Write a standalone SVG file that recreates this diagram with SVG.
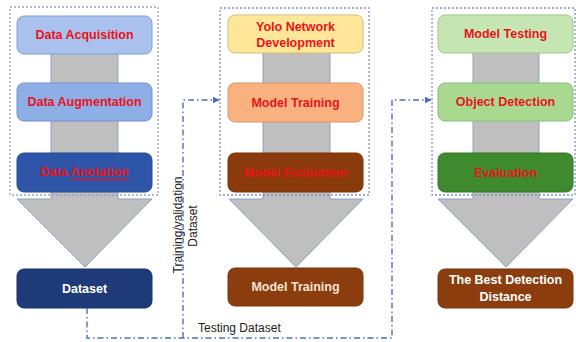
<svg xmlns="http://www.w3.org/2000/svg" width="576" height="342" viewBox="0 0 576 342">
<defs>
<style>
.t{font-family:"Liberation Sans",Arial,sans-serif;font-weight:bold;font-size:12.5px;text-anchor:middle;dominant-baseline:central}
.red{fill:#e8141c}
.wht{fill:#ffffff}
.lbl{font-family:"Liberation Sans",Arial,sans-serif;font-size:12px;fill:#222}
.grp{fill:none;stroke-width:1.3;stroke-dasharray:2 2}
.big{fill:#bfbfbf;stroke:#8fa0c8;stroke-width:1}
.con{fill:none;stroke:#4a6fc0;stroke-width:1.4;stroke-dasharray:6 3 1.5 3}
</style>
<marker id="ah" viewBox="0 0 10 10" refX="9" refY="5" markerWidth="5" markerHeight="5" orient="auto">
<path d="M0,0 L10,5 L0,10 z" fill="#4a6fc0"/>
</marker>
</defs>

<!-- big gray arrows -->
<g id="arrow1"><path class="big" d="M51,50 H118 V199 H152 L85,267 L17,199 H51 Z"/></g>
<g id="arrow2"><path class="big" d="M263,50 H330 V199 H363 L296,267 L229,199 H263 Z"/></g>
<g id="arrow3"><path class="big" d="M473,50 H539 V199 H573 L506,267 L438,199 H473 Z"/></g>

<!-- column 1 -->
<g id="data-acquisition"><rect x="17" y="16" width="135" height="38" rx="7" fill="#a9c1ec" stroke="#7f9fd6"/><text class="t red" x="84.5" y="35">Data Acquisition</text></g>
<g id="data-augmentation"><rect x="17" y="83" width="135" height="38" rx="7" fill="#8eaee6" stroke="#7393d0"/><text class="t red" x="84.5" y="102">Data Augmentation</text></g>
<g id="data-annotation"><rect x="17" y="153" width="135" height="39" rx="7" fill="#2f55a8" stroke="#2a4a92"/><text class="t red" x="84.5" y="172">Data <tspan text-decoration="underline">Anotation</tspan></text></g>
<g id="dataset"><rect x="17" y="269" width="135" height="39" rx="7" fill="#1f3a78" stroke="#1a3268"/><text class="t wht" x="84.5" y="288.5">Dataset</text></g>
<g id="group1"><rect class="grp" x="10" y="7" width="148" height="188" stroke="#9aa3b8"/></g>

<!-- column 2 -->
<g id="yolo"><rect x="228" y="15" width="135" height="38" rx="7" fill="#ffe699" stroke="#cdbd7a"/><text class="t red" x="295.5" y="26.5">Yolo Network</text><text class="t red" x="295.5" y="43">Development</text></g>
<g id="model-training"><rect x="228" y="83" width="135" height="39" rx="7" fill="#f9b27f" stroke="#d9956a"/><text class="t red" x="295.5" y="102.5">Model Training</text></g>
<g id="model-evaluation"><rect x="228" y="153" width="135" height="39" rx="7" fill="#8b3a0c" stroke="#7a320a"/><text class="t red" x="295.5" y="172.5">Model Evaluation</text></g>
<g id="model-training-2"><rect x="228" y="268" width="135" height="38" rx="7" fill="#8b3d0e" stroke="#7a350c"/><text class="t" x="295.5" y="287" fill="#f6e3d3">Model Training</text></g>
<g id="group2"><rect class="grp" x="220" y="8" width="149" height="187" stroke="#7f8fc8"/></g>

<!-- column 3 -->
<g id="model-testing"><rect x="438" y="15" width="135" height="38" rx="7" fill="#c5e5b3" stroke="#9dc98a"/><text class="t red" x="505.5" y="34">Model Testing</text></g>
<g id="object-detection"><rect x="438" y="83" width="135" height="38" rx="7" fill="#a9d991" stroke="#88bd72"/><text class="t red" x="505.5" y="102">Object Detection</text></g>
<g id="evaluation"><rect x="438" y="153" width="135" height="39" rx="7" fill="#3f8a2e" stroke="#357626"/><text class="t red" x="505.5" y="172.5">Evaluation</text></g>
<g id="best-detection"><rect x="438" y="269" width="135" height="39" rx="7" fill="#8b3d0e" stroke="#7a350c"/><text class="t wht" x="505.5" y="280">The Best Detection</text><text class="t wht" x="505.5" y="297">Distance</text></g>
<g id="group3"><rect class="grp" x="432" y="8" width="143" height="187" stroke="#7f8fc8"/></g>

<!-- connectors -->
<g id="connectors">
<path class="con" d="M87,308 V338 H392 V100 H431" marker-end="url(#ah)"/>
<path class="con" d="M183,338 V100 H219" marker-end="url(#ah)"/>
</g>

<!-- labels -->
<g id="labels">
<text class="lbl" transform="translate(182,225) rotate(-90)" text-anchor="middle" font-size="12.5">Training/validation</text>
<text class="lbl" transform="translate(197,226) rotate(-90)" text-anchor="middle" font-size="12.5">Dataset</text>
<text class="lbl" x="198" y="332" font-size="11.5">Testing Dataset</text>
</g>
</svg>
